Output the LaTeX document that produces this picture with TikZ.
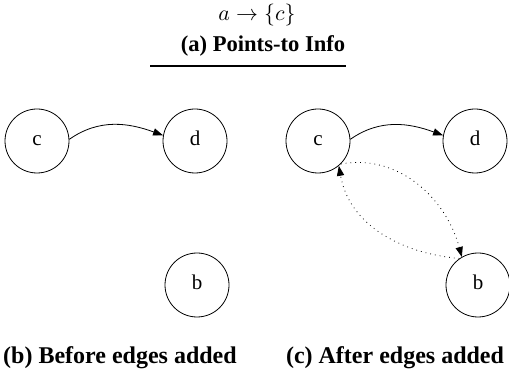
\documentclass[tikz,border=0pt]{standalone}
\usepackage{fontspec}
\setmainfont{Liberation Serif}
\usetikzlibrary{arrows.meta}

\begin{document}
\begin{tikzpicture}[
    x=0.5pt, y=-0.5pt,
    vertex/.style={circle, draw, thin, minimum size=32pt, inner sep=0pt, text height=5pt, text depth=0pt, font=\fontsize{10.5}{12}\selectfont},
    caption/.style={font=\fontsize{12}{14}\selectfont\bfseries},
    edge/.style={-{Triangle[length=5pt, width=3.6pt]}, thin},
    added/.style={edge, dotted},
]
\useasboundingbox (0,0) rectangle (509,379);

% (a) points-to information
\node[font=\fontsize{10.5}{12}\selectfont] (pts) at (257,15) {$a \rightarrow \{c\}$};
\node[caption, font=\fontsize{11.3}{14}\selectfont\bfseries] (capa) at (263,46) {(a) Points-to Info};
\coordinate (rulel) at (150,66);
\coordinate (ruler) at (346,66);
\draw[line width=0.9pt] (rulel) -- (ruler);

% (b) before edges added
\node[vertex] (cl) at (37,141) {c};
\node[vertex] (dl) at (195,141) {d};
\node[vertex] (bl) at (197,285) {b};
\draw[edge] (cl.3) to[out=35, in=160] (dl.170);
\node[caption] (capb) at (120,358) {(b) Before edges added};

% (c) after edges added
\node[vertex] (cr) at (318,141) {c};
\node[vertex] (dr) at (475,141) {d};
\node[vertex] (br) at (478,285) {b};
\draw[edge] (cr.3) to[out=35, in=160] (dr.170);
\draw[added] (cr.-45) to[out=10, in=105] (br.120);
\draw[added] (br.125) to[out=175, in=-80] (cr.-50);
\node[caption] (capc) at (395,358) {(c) After edges added};

\end{tikzpicture}
\end{document}
